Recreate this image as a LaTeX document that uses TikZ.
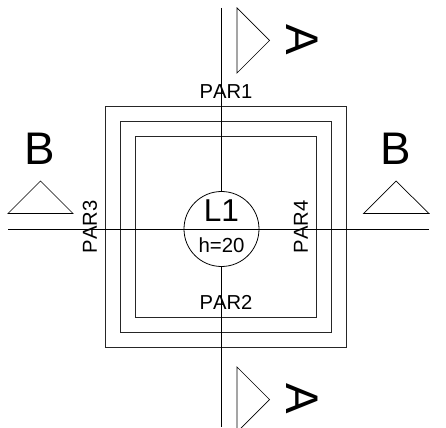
\documentclass[tikz,border=0pt]{standalone}
\usepackage{fontspec}
\setmainfont[Kerning=Off]{Liberation Sans}
\begin{document}
\begin{tikzpicture}[
wall/.style={draw,line width=0.55pt,black!85},
cutline/.style={draw,line width=0.55pt},
marker/.style={draw,line width=0.4pt},
parlabel/.style={inner sep=0pt,font=\fontsize{11.5}{12}\selectfont},
cutlabel/.style={inner sep=0pt,font=\fontsize{26}{27}\selectfont},
]
\useasboundingbox (0,0) rectangle (8.92,8.54);
% walls
\path[wall]
    (2.10,1.60) rectangle +(4.82,4.82)
    (2.40,1.90) rectangle +(4.22,4.22)
    (2.70,2.20) rectangle +(3.62,3.62);
% slab and cut lines
\node[circle,draw,line width=0.45pt,minimum size=1.5cm,inner sep=0pt] (slab) at (4.43,3.96) {};
\coordinate (cutAtop) at (4.42,8.38);
\coordinate (cutAbot) at (4.42,0);
\coordinate (cutBleft) at (0.16,3.96);
\coordinate (cutBright) at (8.58,3.96);
\path[cutline] (cutAtop) -- (cutAtop |- slab.north);
\path[cutline] (cutAbot |- slab.south) -- (cutAbot);
\path[cutline] (cutBleft) -- (cutBright);
% section markers
\path[marker]
    (4.74,8.38) -- (5.39,7.73) -- (4.74,7.08) -- cycle
    (4.74,1.20) -- (5.39,0.55) -- (4.74,-0.10) -- cycle
    (0.16,4.27) -- (0.81,4.92) -- (1.46,4.27) -- cycle
    (7.27,4.27) -- (7.92,4.92) -- (8.58,4.27) -- cycle;
% labels
\node[inner sep=0pt,font=\fontsize{18}{19}\selectfont] (slabname) at (4.43,4.32) {L1};
\node[inner sep=0pt,font=\fontsize{11.6}{12}\selectfont] (slabh) at (4.43,3.64) {h=20};
\node[parlabel] (par1) at (4.52,6.70) {PAR1};
\node[parlabel] (par2) at (4.52,2.49) {PAR2};
\node[parlabel,rotate=90] (par3) at (1.80,4.00) {PAR3};
\node[parlabel,rotate=90] (par4) at (6.02,4.00) {PAR4};
\node[cutlabel,rotate=-90] (cutAup) at (6.05,7.74) {A};
\node[cutlabel,rotate=-90] (cutAdown) at (6.05,0.56) {A};
\node[cutlabel] (cutBl) at (0.80,5.56) {B};
\node[cutlabel] (cutBr) at (7.92,5.56) {B};
\end{tikzpicture}
\end{document}
